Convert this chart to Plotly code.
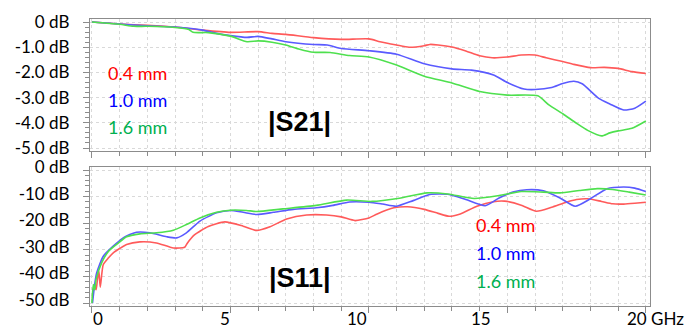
import plotly.graph_objects as go

# ---------------- data ----------------
thickness_labels = ["0.4 mm", "1.0 mm", "1.6 mm"]
x_tick_labels = ["0", "5", "10", "15", "20 GHz"]
s21_tick_vals = [0, -1, -2, -3, -4, -5]
s21_tick_text = ["0 dB", "-1.0 dB", "-2.0 dB", "-3.0 dB", "-4.0 dB", "-5.0 dB"]
s11_tick_vals = [0, -10, -20, -30, -40, -50]
s11_tick_text = ["0 dB", "-10 dB", "-20 dB", "-30 dB", "-40 dB", "-50 dB"]

# |S21| (dB) vs frequency (GHz)
s21_f_04 = [0, 0.5, 1, 2, 3, 4, 5, 6, 6.5, 7, 8, 9, 10, 10.4, 11, 11.45, 12, 12.2, 12.5, 13,
            13.5, 14, 14.45, 15, 15.5, 16, 16.4, 17, 17.4, 18, 18.5, 19, 19.5, 20]
s21_v_04 = [0, -0.04, -0.08, -0.13, -0.2, -0.32, -0.41, -0.38, -0.45, -0.49, -0.62, -0.69, -0.67,
            -0.78, -0.91, -1.0, -0.94, -0.89, -0.91, -0.99, -1.15, -1.34, -1.42, -1.39, -1.31,
            -1.31, -1.42, -1.57, -1.68, -1.81, -1.80, -1.84, -1.97, -2.04]

s21_f_10 = [0, 1, 2, 3, 4, 4.5, 5, 5.6, 6, 6.5, 7, 8, 8.5, 9, 10, 11, 12, 13, 13.7, 14.5,
            15, 15.6, 16, 16.6, 17, 17.4, 17.7, 18.3, 18.7, 19.2, 19.6, 20]
s21_v_10 = [0, -0.08, -0.15, -0.2, -0.32, -0.45, -0.54, -0.61, -0.57, -0.67, -0.78, -0.89, -0.91,
            -1.05, -1.14, -1.28, -1.66, -1.86, -1.91, -2.1, -2.4, -2.66, -2.68, -2.6, -2.44,
            -2.35, -2.45, -3.03, -3.25, -3.49, -3.42, -3.14]

s21_f_16 = [0, 1, 1.5, 2, 3, 3.5, 3.65, 4.2, 5, 5.6, 6, 6.5, 7, 7.5, 8, 8.6, 9.3, 10, 11, 12,
            13, 14, 15, 16.1, 16.5, 17, 17.5, 17.9, 18.4, 18.7, 19, 19.5, 20]
s21_v_16 = [0, -0.09, -0.17, -0.17, -0.22, -0.3, -0.41, -0.42, -0.56, -0.78, -0.75, -0.8, -0.91,
            -1.08, -1.2, -1.21, -1.33, -1.39, -1.71, -2.15, -2.42, -2.76, -2.9, -2.93, -3.29,
            -3.64, -4.02, -4.3, -4.52, -4.4, -4.32, -4.22, -3.93]

# |S11| (dB) vs frequency (GHz)
s11_f_04 = [0.02, 0.08, 0.15, 0.2, 0.25, 0.3, 0.41, 0.6, 0.77, 1.0, 1.25, 1.73, 2.33, 2.94, 3.35,
            3.45, 3.7, 4.2, 4.8, 5.46, 5.95, 6.43, 7.03, 7.75, 8.47, 9.0, 9.5, 10.0, 10.3, 10.9,
            11.4, 12.0, 12.5, 12.9, 13.3, 13.9, 14.5, 14.9, 15.5, 16.05, 16.6, 17.1, 17.5, 17.9,
            18.4, 18.8, 19.2, 19.6, 20]
s11_v_04 = [-48, -43, -45, -41, -38, -44, -35.5, -33, -31.1, -29.5, -28, -27, -27.4, -29.3, -29,
            -27.4, -24.4, -21.2, -19.5, -21.1, -22.7, -21.3, -18.4, -16.9, -16.9, -17.6, -19.0,
            -18.0, -16.5, -14.2, -13.8, -14.8, -16.3, -17.4, -16.5, -13.6, -11.9, -11.7, -13.2,
            -15.5, -14.0, -12.2, -11.1, -10.8, -11.8, -12.7, -12.8, -12.5, -12.1]

s11_f_10 = [0.02, 0.1, 0.17, 0.41, 0.77, 1.13, 1.25, 1.61, 2.09, 2.7, 3.06, 3.41, 3.9, 4.5, 5.0,
            5.46, 5.95, 6.55, 7.27, 8.1, 8.7, 9.3, 10.0, 10.5, 11.0, 11.6, 12.2, 12.9, 13.5, 14.2,
            14.7, 15.2, 15.7, 16.3, 16.9, 17.45, 18.0, 18.6, 19.2, 19.6, 20]
s11_v_10 = [-50, -43, -38.7, -32.4, -28.6, -25.5, -24.8, -23.4, -23.6, -25.1, -25.5, -23.6, -19.2,
            -16.1, -15.2, -15.9, -16.7, -15.9, -14.8, -14.2, -13.3, -12.0, -12.1, -12.8, -13.6,
            -11.5, -9.2, -9.2, -11.1, -13.4, -10.5, -8.3, -7.4, -7.8, -10.5, -13.6, -10.8, -7.0,
            -6.4, -6.8, -8.1]

s11_f_16 = [0.0, 0.05, 0.1, 0.15, 0.35, 0.6, 0.96, 1.25, 1.73, 2.33, 2.94, 3.41, 3.9, 4.5, 5.0,
            5.58, 5.95, 6.9, 8.1, 9.2, 10.1, 11.1, 12.1, 12.85, 13.8, 14.7, 15.5, 16.3, 16.9,
            17.6, 18.25, 18.8, 19.4, 20]
s11_v_16 = [-50, -43, -45, -41, -34.9, -30.5, -27.4, -25.1, -24.0, -23.6, -22.6, -20.5, -18.0,
            -15.9, -15.1, -15.2, -15.6, -14.6, -13.3, -11.3, -11.8, -10.6, -8.6, -9.0, -10.7,
            -9.6, -8.1, -8.3, -8.6, -7.7, -7.0, -7.3, -8.3, -9.4]

# ---------------- styling ----------------
line_colors = ["#ff5a5a", "#5a5aff", "#4ee04e"]
text_colors = ["#ff0000", "#0000ff", "#00b050"]
FONT = "Lato"

fig = go.Figure()
s21 = [(s21_f_04, s21_v_04), (s21_f_10, s21_v_10), (s21_f_16, s21_v_16)]
s11 = [(s11_f_04, s11_v_04), (s11_f_10, s11_v_10), (s11_f_16, s11_v_16)]
for (f, v), c, name in zip(s21, line_colors, thickness_labels):
    fig.add_trace(go.Scatter(x=f, y=v, mode="lines", name=name, xaxis="x", yaxis="y",
                             line=dict(color=c, width=1.6, shape="spline", smoothing=0.6)))
for (f, v), c, name in zip(s11, line_colors, thickness_labels):
    fig.add_trace(go.Scatter(x=f, y=v, mode="lines", name=name, xaxis="x2", yaxis="y2",
                             line=dict(color=c, width=1.6, shape="spline", smoothing=0.6)))

grid = dict(showgrid=True, gridcolor="#d9d9d9", griddash="dot", gridwidth=1)
box = dict(showline=True, linecolor="#8c8c8c", linewidth=1.3, mirror=True, zeroline=False)

xcommon = dict(range=[-0.07, 20.15], tickvals=[0, 5, 10, 15, 20], ticks="outside", ticklen=6,
               tickcolor="#8c8c8c", showticklabels=False, automargin=False,
               minor=dict(dtick=1, ticks="outside", ticklen=4, tickcolor="#8c8c8c",
                          showgrid=True, gridcolor="#d9d9d9", griddash="dot"),
               **grid, **box)

fig.update_layout(
    width=687, height=329,
    margin=dict(l=90, r=37, t=19, b=23, autoexpand=False),
    paper_bgcolor="white", plot_bgcolor="white",
    showlegend=False,
    font=dict(family=FONT, color="black", size=17),
    xaxis=dict(domain=[0, 1], anchor="y", **xcommon),
    yaxis=dict(domain=[0.54, 1], anchor="x", range=[-5.12, 0.12], tickvals=s21_tick_vals,
               ticktext=s21_tick_text, ticks="outside", ticklen=6, tickcolor="#8c8c8c",
               ticklabelstandoff=10, tickfont=dict(size=17, family=FONT), automargin=False,
               minor=dict(dtick=0.2, ticks="outside", ticklen=4, tickcolor="#8c8c8c"),
               **grid, **box),
    xaxis2=dict(domain=[0, 1], anchor="y2", **xcommon),
    yaxis2=dict(domain=[0, 0.484], anchor="x2", range=[-51.1, 1.1], tickvals=s11_tick_vals,
                ticktext=s11_tick_text, ticks="outside", ticklen=6, tickcolor="#8c8c8c",
                ticklabelstandoff=10, ticklabelshift=-3, tickfont=dict(size=17, family=FONT),
                automargin=False,
                minor=dict(dtick=2, ticks="outside", ticklen=4, tickcolor="#8c8c8c"),
                **grid, **box),
)

ann = []
# x tick labels (placed as in the original figure)
x_label_px = [97.5, 225, 357, 481, 655]
for lab, px in zip(x_tick_labels, x_label_px):
    ann.append(dict(text=lab, x=(px - 90) / 560, y=(306 - 318.5) / 287, xref="paper",
                    yref="paper", xanchor="center", yanchor="middle", showarrow=False,
                    borderpad=0, font=dict(size=17, family=FONT, color="black")))
# series labels
for i, (lab, col) in enumerate(zip(thickness_labels, text_colors)):
    ann.append(dict(text=lab, x=(106 - 90) / 560, y=(306 - (73 + 27 * i)) / 287, xref="paper",
                    yref="paper", xanchor="left", yanchor="middle", showarrow=False,
                    font=dict(size=18, family=FONT, color=col)))
    ann.append(dict(text=lab, x=(474 - 90) / 560, y=(306 - (225 + 28 * i)) / 287, xref="paper",
                    yref="paper", xanchor="left", yanchor="middle", showarrow=False,
                    font=dict(size=18, family=FONT, color=col)))
ann.append(dict(text="<b>|S21|</b>", x=(299 - 90) / 560, y=(306 - 122) / 287, xref="paper",
                yref="paper", xanchor="center", yanchor="middle", showarrow=False,
                font=dict(size=27, family="Liberation Sans", color="black")))
ann.append(dict(text="<b>|S11|</b>", x=(300 - 90) / 560, y=(306 - 278) / 287, xref="paper",
                yref="paper", xanchor="center", yanchor="middle", showarrow=False,
                font=dict(size=27, family="Liberation Sans", color="black")))
fig.update_layout(annotations=ann)

fig.write_html("out.html", config={"displayModeBar": False},
               post_script="document.body.style.margin='0';")
